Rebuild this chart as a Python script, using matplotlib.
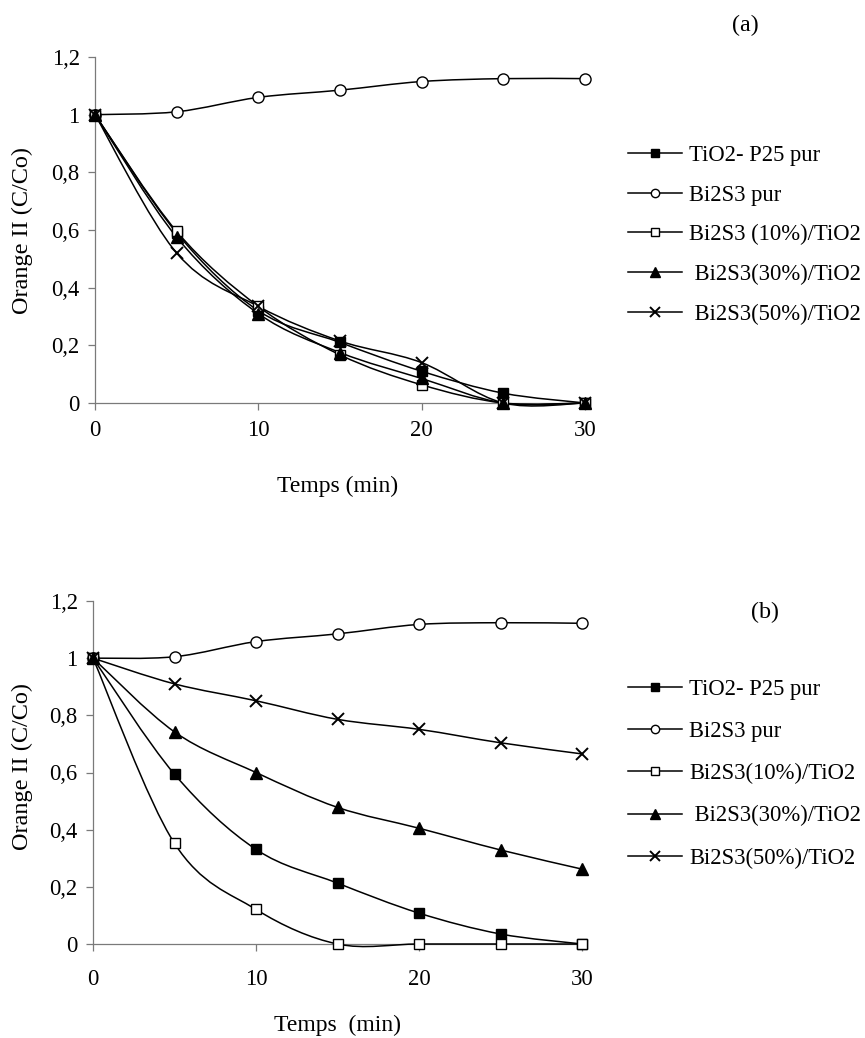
import numpy as np
import matplotlib
matplotlib.use('Agg')
import matplotlib.pyplot as plt
from matplotlib.path import Path
from matplotlib.patches import PathPatch
from matplotlib.lines import Line2D

# ---------------- data ----------------
time_min = [0, 5, 10, 15, 20, 25, 30]
x_ticks = [0, 10, 20, 30]
y_ticks = [0, 0.2, 0.4, 0.6, 0.8, 1.0, 1.2]
y_tick_labels = ["0", "0,2", "0,4", "0,6", "0,8", "1", "1,2"]

labels_a = ["TiO2- P25 pur", "Bi2S3 pur", "Bi2S3 (10%)/TiO2",
            " Bi2S3(30%)/TiO2", " Bi2S3(50%)/TiO2"]
labels_b = ["TiO2- P25 pur", "Bi2S3 pur", "Bi2S3(10%)/TiO2",
            " Bi2S3(30%)/TiO2", "Bi2S3(50%)/TiO2"]

a_tio2 = [1.0, 0.59, 0.32, 0.21, 0.11, 0.034, 0.0]
a_bi2s3 = [1.0, 1.01, 1.06, 1.085, 1.115, 1.125, 1.125]
a_10 = [1.0, 0.595, 0.335, 0.167, 0.063, 0.0, 0.0]
a_30 = [1.0, 0.575, 0.31, 0.175, 0.085, 0.0, 0.0]
a_50 = [1.0, 0.52, 0.335, 0.215, 0.14, 0.0, 0.0]

b_tio2 = [1.0, 0.594, 0.331, 0.213, 0.108, 0.035, 0.0]
b_bi2s3 = [1.0, 1.005, 1.058, 1.085, 1.118, 1.124, 1.122]
b_10 = [1.0, 0.352, 0.121, 0.0, 0.0, 0.0, 0.0]
b_30 = [1.0, 0.742, 0.60, 0.478, 0.405, 0.329, 0.262]
b_50 = [1.0, 0.91, 0.851, 0.786, 0.751, 0.704, 0.665]

# ---------------- style ----------------
plt.rcParams['font.family'] = ['Liberation Serif', 'DejaVu Serif']
FS = 16.3
styles = [
    dict(marker='s', mfc='black', mec='black', ms=7.5),
    dict(marker='o', mfc='white', mec='black', ms=8),
    dict(marker='s', mfc='white', mec='black', ms=7.5),
    dict(marker='^', mfc='black', mec='black', ms=8),
    dict(marker='x', mfc='black', mec='black', ms=9, mew=1.4),
]
leg_ms = [6, 6, 6, 6.5, 7]
LW = 1.1
AXC = '#7a7a7a'


def smooth_path(xs, ys, t=1.0 / 6.0):
    pts = np.column_stack([xs, ys]).astype(float)
    n = len(pts)
    verts = [pts[0]]
    codes = [Path.MOVETO]
    for i in range(n - 1):
        p_prev = pts[i - 1] if i > 0 else pts[i]
        p0 = pts[i]
        p1 = pts[i + 1]
        p_next = pts[i + 2] if i + 2 < n else pts[i + 1]
        c1 = p0 + (p1 - p_prev) * t
        c2 = p1 - (p_next - p0) * t
        verts += [c1, c2, p1]
        codes += [Path.CURVE4] * 3
    return Path(verts, codes)


def draw_panel(ax, series, labels, xpad):
    ax.set_xlim(0, 30)
    ax.set_ylim(0, 1.2)
    for ys, st in zip(series, styles):
        patch = PathPatch(smooth_path(time_min, ys), fill=False, lw=LW,
                          edgecolor='black', transform=ax.transData,
                          clip_on=False, zorder=3)
        ax.add_patch(patch)
    for ys, st in zip(series, styles):
        ax.plot(time_min, ys, linestyle='none', clip_on=False, zorder=4, **st)
    for s in ['top', 'right']:
        ax.spines[s].set_visible(False)
    for s in ['left', 'bottom']:
        ax.spines[s].set_color(AXC)
        ax.spines[s].set_linewidth(0.9)
    ax.set_xticks(x_ticks)
    ax.set_yticks(y_ticks)
    ax.set_yticklabels(y_tick_labels)
    ax.tick_params(axis='y', direction='out', length=5, width=0.9,
                   color=AXC, pad=6, labelsize=FS)
    ax.tick_params(axis='x', direction='out', length=5, width=0.9,
                   color=AXC, pad=xpad, labelsize=FS)
    handles = []
    for st, ms in zip(styles, leg_ms):
        d = dict(st)
        d['ms'] = ms
        handles.append(Line2D([], [], color='black', lw=LW, **d))
    return handles


fig = plt.figure(figsize=(8.65, 10.38), dpi=100)
W, H = 865.0, 1038.0

ax1 = fig.add_axes([95 / W, 1 - 403 / H, 490 / W, 346 / H])
ax2 = fig.add_axes([93 / W, 1 - 944 / H, 489 / W, 343 / H])

h1 = draw_panel(ax1, [a_tio2, a_bi2s3, a_10, a_30, a_50], labels_a, xpad=7)
h2 = draw_panel(ax2, [b_tio2, b_bi2s3, b_10, b_30, b_50], labels_b, xpad=13)

leg1 = fig.legend(h1, labels_a, loc='upper left',
                  bbox_to_anchor=(628 / W, 1 - 145 / H), frameon=False,
                  fontsize=FS, handlelength=2.4, handletextpad=0.3,
                  labelspacing=0.82, borderpad=0, borderaxespad=0)
leg2 = fig.legend(h2, labels_b, loc='upper left',
                  bbox_to_anchor=(628 / W, 1 - 679 / H), frameon=False,
                  fontsize=FS, handlelength=2.4, handletextpad=0.3,
                  labelspacing=0.93, borderpad=0, borderaxespad=0)

fig.text(745 / W, 1 - 25 / H, "(a)", ha='center', va='center', fontsize=FS + 1)
fig.text(765 / W, 1 - 612 / H, "(b)", ha='center', va='center', fontsize=FS + 1)

fig.text(22 / W, 1 - 230 / H, "Orange II (C/Co)", rotation=90,
         ha='center', va='center', fontsize=17.5)
fig.text(22 / W, 1 - 766 / H, "Orange II (C/Co)", rotation=90,
         ha='center', va='center', fontsize=17.5)
fig.text(338 / W, 1 - 486 / H, "Temps (min)", ha='center', va='center',
         fontsize=17)
fig.text(338 / W, 1 - 1025 / H, "Temps  (min)", ha='center', va='center',
         fontsize=17)

fig.savefig('out.png', dpi=100)
